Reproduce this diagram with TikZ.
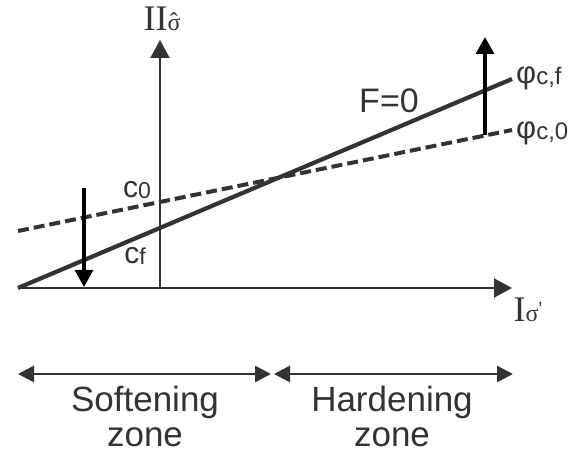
\documentclass[tikz,border=0pt]{standalone}
\usepackage{fontspec}
\setmainfont{Liberation Sans}
\newfontfamily\serifface{Liberation Serif}
\usetikzlibrary{arrows.meta}
\definecolor{ink}{HTML}{333333}
\newcommand{\fs}[1]{\fontsize{#1}{#1}\selectfont}
\newcommand{\hatsigma}{\leavevmode\hbox{\ooalign{σ\cr\hidewidth\raisebox{1pt}{ˆ}\hidewidth\cr}}}
\begin{document}
\begin{tikzpicture}[x=1pt,y=-1pt,
  axis/.style={draw=ink, line width=2.2pt, -{Triangle[width=19pt,length=18pt]}},
  mainline/.style={draw=ink, line width=4.2pt},
  dashline/.style={draw=ink, line width=4pt, dash pattern=on 11pt off 5pt},
  shiftarrow/.style={draw=black, line width=3.2pt, -{Triangle[width=18pt,length=17pt]}},
  zonearrow/.style={draw=ink, line width=2.6pt, {Triangle[width=16pt,length=16pt]}-{Triangle[width=16pt,length=16pt]}},
  lbl/.style={text=ink, inner sep=0pt},
  zonetext/.style={text=ink, inner sep=0pt, anchor=base, font=\fs{35}}]
\useasboundingbox (0,0) rectangle (587,454);
% axes
\coordinate (O) at (160,288);
\coordinate (Ytip) at (160,40);
\coordinate (Xs) at (18,288);
\coordinate (Xtip) at (512,288);
\draw[axis] (O) -- (Ytip);
\draw[axis] (Xs) -- (Xtip);
\node[lbl, anchor=base] (ylab) at (162,31) {\serifface\fs{36}II\fs{24}\hatsigma};
\node[lbl, anchor=base] (xlab) at (528,322) {\serifface\fs{36}I\fs{24}σ\raisebox{6pt}{\fs{20}'}};
% lines
\coordinate (Fs) at (18,288);
\coordinate (Fe) at (512,79);
\coordinate (Ds) at (18,231);
\coordinate (De) at (512,130);
\draw[mainline] (Fs) -- (Fe);
\draw[dashline] (Ds) -- (De);
\node[lbl, font=\fs{34}] (F) at (389,101) {F=0};
\node[lbl, anchor=base west] (phif) at (516,84) {\fs{31}φ\raisebox{-1pt}{\fs{24}c,f}};
\node[lbl, anchor=base west] (phi0) at (516,139) {\fs{31}φ\raisebox{-1pt}{\fs{24}c,0}};
\node[lbl, anchor=base] (c0) at (137,198) {\fs{30}c\raisebox{-1pt}{\fs{23}0}};
\node[lbl, anchor=base] (cf) at (135,264) {\fs{30}c\raisebox{-1pt}{\fs{23}f}};
% shift arrows
\coordinate (Ds1) at (84,188);
\coordinate (De1) at (84,287);
\coordinate (Us1) at (485,135);
\coordinate (Ue1) at (485,37);
\draw[shiftarrow] (Ds1) -- (De1);
\draw[shiftarrow] (Us1) -- (Ue1);
% zones
\coordinate (Z1) at (18,374);
\coordinate (Z2) at (271,374);
\coordinate (Z3) at (274,374);
\coordinate (Z4) at (513,374);
\draw[zonearrow] (Z1) -- (Z2);
\draw[zonearrow] (Z3) -- (Z4);
\node[zonetext] (soft) at (145,412) {Softening};
\node[zonetext] (softz) at (145,447) {zone};
\node[zonetext] (hard) at (392,412) {Hardening};
\node[zonetext] (hardz) at (392,447) {zone};
\end{tikzpicture}
\end{document}
